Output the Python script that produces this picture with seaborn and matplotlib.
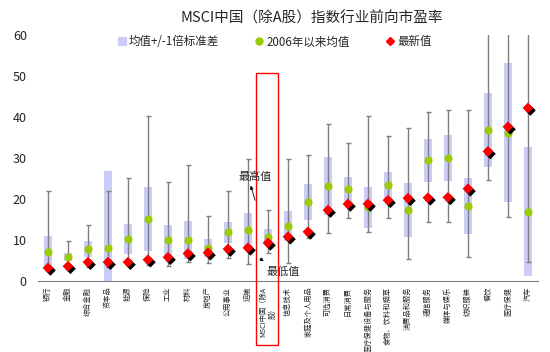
import numpy as np
import pandas as pd
import seaborn as sns
import matplotlib
matplotlib.use('Agg')
import matplotlib.pyplot as plt
import matplotlib.patheffects as pe
from matplotlib.lines import Line2D
from matplotlib.patches import Rectangle

# 行业（左 -> 右）
sectors = ['银行', '金融', '综合金融', '资本品', '能源', '保险', '工业', '材料', '房地产',
           '公用事业', '运输', 'MSCI中国（除A\n股）', '信息技术', '家庭及个人用品', '可选消费',
           '日常消费', '医疗保健设备与服务', '食物、饮料和烟草', '消费品和服务', '通信服务',
           '媒体与娱乐', '纺织服装', '餐饮', '医疗保健', '汽车']

# 2006年以来均值
mean_pe = [7.0, 5.8, 7.8, 8.0, 10.3, 15.2, 10.0, 10.0, 8.0, 11.9, 12.4, 10.7, 13.4,
           19.3, 23.2, 22.5, 18.0, 23.3, 17.3, 29.4, 30.0, 18.2, 36.8, 36.2, 16.9]
# 1倍标准差
std_pe = [4.0, 1.0, 1.9, 18.9, 3.7, 7.8, 3.6, 4.6, 2.2, 2.6, 4.1, 2.0, 3.7,
          4.4, 7.1, 2.9, 5.0, 3.2, 6.5, 5.2, 5.6, 6.8, 9.0, 16.9, 15.7]
# 最高值 / 最低值
max_pe = [21.9, 9.7, 13.7, 21.9, 25.0, 40.2, 24.1, 28.2, 15.9, 21.9, 29.8, 17.3, 29.8,
          30.7, 38.3, 33.7, 40.3, 35.4, 37.4, 41.3, 41.7, 41.7, 62.0, 62.0, 62.0]
min_pe = [2.8, 3.0, 3.3, 3.5, 4.0, 4.0, 3.7, 4.7, 4.4, 5.7, 4.1, 6.8, 4.4,
          10.6, 11.6, 15.3, 12.0, 15.3, 5.4, 14.5, 14.5, 5.9, 24.6, 15.7, 4.7]
# 最新值
latest_pe = [3.2, 3.6, 4.6, 4.6, 4.6, 5.2, 5.8, 6.7, 6.9, 7.8, 8.1, 9.3, 10.8,
             12.0, 17.3, 18.8, 18.8, 19.7, 20.2, 20.3, 20.4, 22.5, 31.6, 37.6, 42.2]

df = pd.DataFrame({'sector': sectors, 'mean': mean_pe, 'std': std_pe,
                   'max': max_pe, 'min': min_pe, 'latest': latest_pe})
df['pos'] = np.arange(len(df))

sns.set_style('white')
plt.rcParams['font.family'] = ['Noto Sans CJK SC', 'DejaVu Sans']

fig = plt.figure(figsize=(5.5, 3.52), dpi=100)
ax = fig.add_axes([0.069, 0.2017, 0.909, 0.699])

box_c = '#ccccfa'
green = '#99cc00'
red = '#ff0000'

# 均值 +/- 1倍标准差
ax.bar(df['pos'], 2 * df['std'], bottom=df['mean'] - df['std'], width=0.42,
       color=box_c, edgecolor='none', zorder=1)
# 最高/最低
ax.errorbar(df['pos'], df['mean'], yerr=[df['mean'] - df['min'], df['max'] - df['mean']],
            fmt='none', ecolor='#7f7f7f', elinewidth=1, capsize=1.8, capthick=1, zorder=2)

sns.scatterplot(data=df, x='pos', y='mean', color=green, s=34, linewidth=0,
                zorder=3, ax=ax, legend=False)
sns.scatterplot(data=df, x='pos', y='latest', color=red, marker='D', s=30,
                linewidth=0, zorder=4, ax=ax, legend=False)
ax.collections[-1].set_path_effects([
    pe.SimplePatchShadow(offset=(1.8, -1.8), shadow_rgbFace='black', alpha=1),
    pe.Normal()])

ax.set_xlim(-0.5, len(df) - 0.5)
ax.set_ylim(0, 60)
ax.set_yticks(range(0, 61, 10))
ax.tick_params(axis='y', length=0, pad=8, labelsize=9)
ax.set_xticks(df['pos'])
ax.set_xticklabels(df['sector'], rotation=90, fontsize=5.2, va='top',
                   multialignment='center')
ax.set_xticks(np.arange(-0.5, len(df), 1), minor=True)
ax.tick_params(axis='x', which='major', length=0, pad=4)
ax.tick_params(axis='x', which='minor', length=3, color='#7f7f7f', direction='out')
ax.set_xlabel('')
ax.set_ylabel('')
for s in ['top', 'right', 'left']:
    ax.spines[s].set_visible(False)
ax.spines['bottom'].set_color('#7f7f7f')

fig.text(0.567, 0.948, 'MSCI中国（除A股）指数行业前向市盈率', ha='center', va='center',
         fontsize=10.5)

handles = [
    Line2D([], [], marker='s', linestyle='none', color=box_c, markersize=6),
    Line2D([], [], marker='o', linestyle='none', color=green, markersize=5),
    Line2D([], [], marker='D', linestyle='none', color=red, markersize=4.5),
]
fig.legend(handles, ['均值+/-1倍标准差', '2006年以来均值', '最新值'], ncol=3,
           loc='center', bbox_to_anchor=(0.5, 0.881), frameon=False, fontsize=8.3,
           handlelength=0.6, handletextpad=0.3, columnspacing=3.2)

# 标注 MSCI 中国
ax.add_patch(Rectangle((10.4, -15.6), 1.1, 66.3, fill=False, edgecolor='red',
                       linewidth=1, clip_on=False, zorder=5))
ax.annotate('最高值', xy=(10.1, 23.9), xytext=(10.35, 25.4), fontsize=8,
            ha='center', va='center', zorder=6)
ax.annotate('', xy=(10.1, 23.9), xytext=(10.4, 19.0),
            arrowprops=dict(arrowstyle='-|>', color='black', lw=0.6, mutation_scale=5))
ax.annotate('最低值', xy=(11.75, 2.2), fontsize=8, ha='center', va='center',
            annotation_clip=False)
ax.annotate('', xy=(10.9, 4.4), xytext=(10.5, 5.85),
            arrowprops=dict(arrowstyle='-|>', color='black', lw=0.6, mutation_scale=5))

fig.savefig('out.png', dpi=100)
